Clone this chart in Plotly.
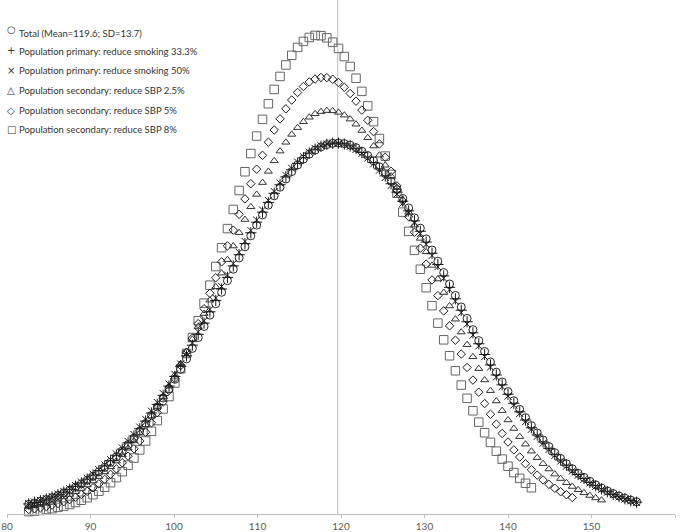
import plotly.graph_objects as go

# systolic blood pressure grid (mmHg); the shorter series use the first n points
sbp = [
    82.6, 83.3, 84.0, 84.7, 85.4, 86.1, 86.8, 87.5, 88.2, 88.9,
    89.6, 90.3, 91.0, 91.7, 92.4, 93.1, 93.8, 94.5, 95.2, 95.9,
    96.6, 97.3, 98.0, 98.7, 99.4, 100.1, 100.8, 101.5, 102.2, 102.9,
    103.6, 104.3, 105.0, 105.7, 106.4, 107.1, 107.8, 108.5, 109.2, 109.9,
    110.6, 111.3, 112.0, 112.7, 113.4, 114.1, 114.8, 115.5, 116.2, 116.9,
    117.6, 118.3, 119.0, 119.7, 120.4, 121.1, 121.8, 122.5, 123.2, 123.9,
    124.6, 125.3, 126.0, 126.7, 127.4, 128.1, 128.8, 129.5, 130.2, 130.9,
    131.6, 132.3, 133.0, 133.7, 134.4, 135.1, 135.8, 136.5, 137.2, 137.9,
    138.6, 139.3, 140.0, 140.7, 141.4, 142.1, 142.8, 143.5, 144.2, 144.9,
    145.6, 146.3, 147.0, 147.7, 148.4, 149.1, 149.8, 150.5, 151.2, 151.9,
    152.6, 153.3, 154.0, 154.7, 155.4,
]

# share of population (%) at each sbp value
total = [
    0.076, 0.087, 0.100, 0.114, 0.129, 0.146, 0.166, 0.187, 0.211, 0.236,
    0.265, 0.296, 0.330, 0.366, 0.406, 0.448, 0.494, 0.544, 0.596, 0.652,
    0.711, 0.774, 0.840, 0.910, 0.982, 1.057, 1.136, 1.217, 1.300, 1.385,
    1.472, 1.561, 1.650, 1.740, 1.831, 1.921, 2.010, 2.097, 2.183, 2.267,
    2.347, 2.424, 2.497, 2.565, 2.629, 2.687, 2.739, 2.785, 2.824, 2.856,
    2.881, 2.899, 2.909, 2.912, 2.907, 2.895, 2.875, 2.847, 2.813, 2.772,
    2.724, 2.671, 2.611, 2.546, 2.476, 2.402, 2.324, 2.243, 2.159, 2.072,
    1.984, 1.895, 1.805, 1.715, 1.625, 1.535, 1.447, 1.361, 1.276, 1.193,
    1.113, 1.036, 0.961, 0.889, 0.821, 0.756, 0.694, 0.636, 0.581, 0.529,
    0.481, 0.436, 0.394, 0.355, 0.320, 0.287, 0.256, 0.229, 0.204, 0.181,
    0.160, 0.141, 0.124, 0.109, 0.096,
]
smoking_33 = [
    0.079, 0.091, 0.104, 0.118, 0.134, 0.152, 0.172, 0.194, 0.218, 0.244,
    0.274, 0.306, 0.340, 0.378, 0.418, 0.461, 0.509, 0.559, 0.612, 0.669,
    0.729, 0.793, 0.860, 0.931, 1.004, 1.080, 1.159, 1.241, 1.325, 1.410,
    1.498, 1.587, 1.676, 1.766, 1.857, 1.947, 2.035, 2.122, 2.207, 2.290,
    2.369, 2.445, 2.517, 2.584, 2.646, 2.702, 2.752, 2.796, 2.833, 2.863,
    2.886, 2.902, 2.910, 2.911, 2.904, 2.889, 2.867, 2.837, 2.801, 2.758,
    2.709, 2.654, 2.592, 2.526, 2.455, 2.379, 2.301, 2.219, 2.134, 2.046,
    1.958, 1.869, 1.779, 1.689, 1.599, 1.509, 1.422, 1.336, 1.252, 1.170,
    1.091, 1.014, 0.940, 0.869, 0.802, 0.738, 0.677, 0.620, 0.566, 0.515,
    0.468, 0.424, 0.383, 0.345, 0.310, 0.278, 0.248, 0.222, 0.197, 0.175,
    0.154, 0.136, 0.120, 0.105, 0.093,
]
smoking_50 = [
    0.082, 0.094, 0.107, 0.122, 0.138, 0.156, 0.177, 0.199, 0.224, 0.251,
    0.281, 0.313, 0.348, 0.386, 0.427, 0.471, 0.519, 0.570, 0.624, 0.682,
    0.743, 0.807, 0.875, 0.946, 1.020, 1.097, 1.177, 1.259, 1.343, 1.429,
    1.517, 1.606, 1.695, 1.786, 1.876, 1.966, 2.054, 2.140, 2.225, 2.307,
    2.386, 2.461, 2.531, 2.597, 2.658, 2.713, 2.762, 2.805, 2.840, 2.869,
    2.890, 2.904, 2.911, 2.910, 2.901, 2.885, 2.861, 2.830, 2.793, 2.748,
    2.698, 2.641, 2.579, 2.511, 2.439, 2.363, 2.284, 2.201, 2.116, 2.028,
    1.940, 1.850, 1.760, 1.670, 1.580, 1.491, 1.404, 1.319, 1.235, 1.153,
    1.075, 0.999, 0.925, 0.855, 0.789, 0.725, 0.665, 0.609, 0.555, 0.505,
    0.459, 0.415, 0.375, 0.338, 0.304, 0.272, 0.243, 0.217, 0.193, 0.171,
    0.151, 0.133, 0.117, 0.103, 0.090,
]
sbp_2_5 = [
    0.055, 0.064, 0.075, 0.087, 0.100, 0.116, 0.134, 0.153, 0.176, 0.200,
    0.228, 0.259, 0.293, 0.330, 0.370, 0.415, 0.464, 0.516, 0.573, 0.634,
    0.699, 0.769, 0.843, 0.921, 1.004, 1.090, 1.180, 1.274, 1.371, 1.471,
    1.573, 1.678, 1.783, 1.890, 1.996, 2.103, 2.208, 2.311, 2.411, 2.508,
    2.601, 2.689, 2.772, 2.848, 2.917, 2.979, 3.032, 3.078, 3.114, 3.141,
    3.158, 3.166, 3.164, 3.152, 3.130, 3.099, 3.059, 3.010, 2.953, 2.888,
    2.816, 2.737, 2.652, 2.562, 2.467, 2.368, 2.267, 2.163, 2.057, 1.951,
    1.844, 1.738, 1.633, 1.529, 1.428, 1.329, 1.234, 1.141, 1.052, 0.968,
    0.887, 0.811, 0.738, 0.671, 0.607, 0.548, 0.493, 0.442, 0.395, 0.353,
    0.313, 0.278, 0.245, 0.216, 0.190, 0.166, 0.145, 0.126, 0.109,
]
sbp_5 = [
    0.035, 0.041, 0.049, 0.059, 0.070, 0.082, 0.097, 0.113, 0.132, 0.154,
    0.178, 0.206, 0.237, 0.272, 0.311, 0.354, 0.402, 0.454, 0.512, 0.574,
    0.642, 0.716, 0.795, 0.879, 0.969, 1.064, 1.165, 1.270, 1.380, 1.494,
    1.611, 1.732, 1.854, 1.979, 2.104, 2.228, 2.352, 2.473, 2.592, 2.706,
    2.815, 2.918, 3.014, 3.101, 3.180, 3.249, 3.308, 3.355, 3.391, 3.414,
    3.426, 3.425, 3.412, 3.386, 3.349, 3.300, 3.240, 3.170, 3.090, 3.001,
    2.904, 2.800, 2.690, 2.575, 2.456, 2.334, 2.211, 2.086, 1.961, 1.837,
    1.714, 1.594, 1.477, 1.364, 1.255, 1.150, 1.051, 0.956, 0.867, 0.783,
    0.705, 0.632, 0.565, 0.503, 0.447, 0.395, 0.348, 0.305, 0.267, 0.233,
    0.202, 0.175, 0.151, 0.129,
]
sbp_8 = [
    0.019, 0.023, 0.028, 0.035, 0.042, 0.052, 0.062, 0.075, 0.090, 0.108,
    0.128, 0.152, 0.179, 0.210, 0.246, 0.286, 0.332, 0.383, 0.439, 0.503,
    0.573, 0.649, 0.733, 0.824, 0.922, 1.028, 1.140, 1.260, 1.385, 1.517,
    1.655, 1.796, 1.942, 2.090, 2.240, 2.390, 2.539, 2.686, 2.829, 2.966,
    3.097, 3.220, 3.332, 3.434, 3.524, 3.600, 3.662, 3.709, 3.740, 3.756,
    3.754, 3.737, 3.703, 3.654, 3.590, 3.512, 3.420, 3.317, 3.203, 3.079,
    2.947, 2.809, 2.665, 2.518, 2.369, 2.218, 2.069, 1.921, 1.776, 1.635,
    1.498, 1.367, 1.242, 1.124, 1.012, 0.908, 0.810, 0.721, 0.638, 0.562,
    0.493, 0.431, 0.375, 0.325, 0.280, 0.241, 0.206,
]

total_mean = 119.6
x_ticks = [80, 90, 100, 110, 120, 130, 140, 150, 160]

# legend order (top to bottom) with the glyph shown before each label
legend_rows = [
    ("○", "Total (Mean=119.6; SD=13.7)"),
    ("+", "Population primary: reduce smoking 33.3%"),
    ("×", "Population primary: reduce smoking 50%"),
    ("△", "Population secondary: reduce SBP 2.5%"),
    ("◇", "Population secondary: reduce SBP 5%"),
    ("□", "Population secondary: reduce SBP 8%"),
]

# drawn bottom to top
series = [
    (legend_rows[5][1], sbp_8, "square-open", 8.5, "#666666"),
    (legend_rows[4][1], sbp_5, "diamond-open", 6.5, "#1a1a1a"),
    (legend_rows[3][1], sbp_2_5, "triangle-up-open", 7, "#333333"),
    (legend_rows[0][1], total, "circle-open", 8, "#262626"),
    (legend_rows[1][1], smoking_33, "cross-thin-open", 8, "#1a1a1a"),
    (legend_rows[2][1], smoking_50, "x-thin-open", 7, "#1a1a1a"),
]

W, H = 683, 532
L, R, T, B = 7, 8, 0, 18
plot_w, plot_h = W - L - R, H - T - B


def px_x(px):
    return (px - L) / plot_w


def px_y(py):
    return (H - B - py) / plot_h


fig = go.Figure()
for name, vals, symbol, size, color in series:
    fig.add_trace(go.Scatter(
        x=sbp[:len(vals)], y=vals, name=name, mode="markers",
        marker=dict(symbol=symbol, size=size, color=color, line=dict(width=1, color=color)),
        cliponaxis=False, showlegend=False,
    ))

fig.add_shape(type="line", x0=total_mean, x1=total_mean, y0=0, y1=1, yref="paper",
              line=dict(color="#c8c8c8", width=1.2), layer="below")

# legend drawn as text rows in the top-left corner
row_y = [33, 51.5, 71, 90.5, 110, 129.5]
glyph_dy = [-3.5, -1, -0.5, 0, 0, 0]
for (glyph, label), yy, dy in zip(legend_rows, row_y, glyph_dy):
    fig.add_annotation(x=px_x(11), y=px_y(yy + dy), xref="paper", yref="paper",
                       text=glyph, showarrow=False, xanchor="center", yanchor="middle",
                       font=dict(family="DejaVu Sans", size=10, color="#3a3a3a"))
    fig.add_annotation(x=px_x(16.5), y=px_y(yy), xref="paper", yref="paper",
                       text=label, showarrow=False, xanchor="left", yanchor="middle",
                       font=dict(size=9.5, color="#333333"))

fig.update_layout(
    width=W, height=H,
    margin=dict(l=L, r=R, t=T, b=B, autoexpand=False),
    paper_bgcolor="white", plot_bgcolor="white",
    font=dict(family="Lato, 'DejaVu Sans', sans-serif", color="#404040"),
    showlegend=False,
)
fig.update_xaxes(range=[80, 160], tickvals=x_ticks, showgrid=False, zeroline=False,
                 showline=True, linecolor="#bfbfbf", linewidth=1, automargin=False,
                 ticks="outside", ticklen=3, tickcolor="#bfbfbf",
                 tickfont=dict(size=10, color="#595959"))
fig.update_yaxes(range=[0, 4.034], visible=False)

# the page body has a default 8px margin; remove it so the figure fills the window
fig.write_html("out.html", config={"displayModeBar": False},
               post_script="document.body.style.margin='0';")
